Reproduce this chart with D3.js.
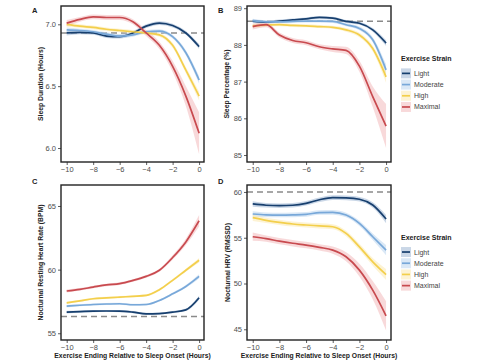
<!DOCTYPE html>
<html><head><meta charset="utf-8">
<script src="https://cdn.jsdelivr.net/npm/d3@7"></script>
<style>html,body{margin:0;padding:0;background:#fff;}svg{display:block;font-family:"Liberation Sans",Arial,sans-serif;}</style>
</head><body><svg id="c" width="480" height="360"></svg>
<script>
// ---------- DATA ----------
const xHours = [-10,-9,-8,-7,-6,-5,-4,-3,-2,-1,0];
const strainLevels = ["Light","Moderate","High","Maximal"];
const strainColors = ["#173f6e","#78a8d9","#f3cf4c","#c84a4f"];
const bandColors = ["#9fb6d3","#bcd5ee","#fbeab0","#f2b9bb"];

// Panel A: Sleep duration (hours)
const durationLight    = [6.93,6.935,6.93,6.905,6.90,6.93,6.985,7.01,6.99,6.93,6.82];
const durationModerate = [6.955,6.95,6.94,6.92,6.905,6.915,6.94,6.945,6.90,6.77,6.55];
const durationHigh     = [7.00,6.985,6.975,6.96,6.95,6.94,6.93,6.915,6.83,6.63,6.42];
const durationMaximal  = [7.01,7.04,7.06,7.055,7.055,7.02,6.93,6.83,6.66,6.42,6.12];
const durationLightCI    = [0.02,0.015,0.015,0.015,0.015,0.015,0.015,0.015,0.015,0.015,0.02];
const durationModerateCI = [0.02,0.015,0.015,0.015,0.015,0.015,0.015,0.015,0.015,0.02,0.03];
const durationHighCI     = [0.02,0.015,0.015,0.015,0.015,0.015,0.015,0.015,0.02,0.025,0.035];
const durationMaximalCI  = [0.025,0.02,0.02,0.02,0.02,0.02,0.025,0.03,0.045,0.08,0.17];
const durationBaseline = 6.93;
const durationTicks = [6.0,6.5,7.0];

// Panel B: Sleep percentage (%)
const percentLight    = [88.65,88.62,88.65,88.68,88.71,88.75,88.73,88.64,88.59,88.41,88.05];
const percentModerate = [88.66,88.63,88.63,88.64,88.65,88.65,88.64,88.55,88.45,88.14,87.32];
const percentHigh     = [88.52,88.54,88.55,88.53,88.52,88.50,88.48,88.41,88.27,87.90,87.13];
const percentMaximal  = [88.50,88.55,88.27,88.12,88.06,87.95,87.89,87.85,87.42,86.59,85.79];
const percentLightCI    = [0.05,0.04,0.04,0.04,0.04,0.04,0.04,0.04,0.04,0.05,0.08];
const percentModerateCI = [0.05,0.04,0.04,0.04,0.04,0.04,0.04,0.04,0.05,0.07,0.15];
const percentHighCI     = [0.05,0.04,0.04,0.04,0.04,0.04,0.04,0.05,0.06,0.08,0.16];
const percentMaximalCI  = [0.08,0.07,0.07,0.07,0.07,0.07,0.08,0.10,0.15,0.28,0.60];
const percentBaseline = 88.645;
const percentTicks = [85,86,87,88,89];

// Panel C: Nocturnal resting heart rate (BPM)
const rhrLight    = [56.66,56.70,56.74,56.75,56.74,56.66,56.53,56.55,56.66,56.84,57.79];
const rhrModerate = [57.13,57.20,57.26,57.30,57.32,57.24,57.26,57.58,58.10,58.68,59.47];
const rhrHigh     = [57.39,57.55,57.71,57.78,57.84,57.90,57.97,58.42,59.16,59.95,60.74];
const rhrMaximal  = [58.32,58.45,58.63,58.80,58.90,59.15,59.47,59.95,60.95,62.18,63.84];
const rhrLightCI    = [0.10,0.08,0.08,0.08,0.08,0.08,0.08,0.08,0.08,0.10,0.15];
const rhrModerateCI = [0.10,0.08,0.08,0.08,0.08,0.08,0.08,0.08,0.09,0.11,0.16];
const rhrHighCI     = [0.10,0.08,0.08,0.08,0.08,0.08,0.08,0.09,0.10,0.12,0.18];
const rhrMaximalCI  = [0.12,0.10,0.10,0.10,0.10,0.10,0.10,0.12,0.18,0.25,0.45];
const rhrBaseline = 56.32;
const rhrTicks = [55,60,65];

// Panel D: Nocturnal HRV (RMSSD)
const hrvLight    = [58.69,58.55,58.50,58.55,58.76,59.15,59.38,59.35,59.20,58.58,57.04];
const hrvModerate = [57.59,57.50,57.48,57.50,57.55,57.75,57.77,57.48,56.57,55.11,53.65];
const hrvHigh     = [57.19,56.90,56.68,56.50,56.39,56.30,56.20,55.47,54.00,52.37,50.98];
const hrvMaximal  = [55.11,54.90,54.63,54.40,54.20,53.95,53.65,52.92,51.46,49.27,46.46];
const hrvLightCI    = [0.30,0.25,0.25,0.25,0.25,0.25,0.25,0.25,0.25,0.30,0.45];
const hrvModerateCI = [0.30,0.25,0.25,0.25,0.25,0.25,0.25,0.25,0.28,0.35,0.55];
const hrvHighCI     = [0.35,0.28,0.28,0.28,0.28,0.28,0.28,0.30,0.35,0.42,0.60];
const hrvMaximalCI  = [0.45,0.35,0.35,0.35,0.35,0.35,0.40,0.50,0.70,1.00,1.60];
const hrvBaseline = 60.0;
const hrvTicks = [45,50,55,60];

const xTicks = [-10,-8,-6,-4,-2,0];
const xTitle = "Exercise Ending Relative to Sleep Onset (Hours)";

// ---------- LAYOUT ----------
const panels = [
  {letter:"A", left:61, top:6, w:143, h:156, yDom:[5.887,7.148], ticks:durationTicks, fmt:d3.format(".1f"),
   title:"Sleep Duration (Hours)", base:durationBaseline,
   series:[durationLight,durationModerate,durationHigh,durationMaximal],
   ci:[durationLightCI,durationModerateCI,durationHighCI,durationMaximalCI], xtitle:false, legend:false, ytx:43},
  {letter:"B", left:247, top:6, w:144, h:156, yDom:[84.81,89.06], ticks:percentTicks, fmt:d3.format("d"),
   title:"Sleep Percentage (%)", base:percentBaseline,
   series:[percentLight,percentModerate,percentHigh,percentMaximal],
   ci:[percentLightCI,percentModerateCI,percentHighCI,percentMaximalCI], xtitle:false, legend:true, ytx:229},
  {letter:"C", left:61, top:185, w:143, h:155, yDom:[54.47,66.65], ticks:rhrTicks, fmt:d3.format("d"),
   title:"Nocturnal Resting Heart Rate (BPM)", base:rhrBaseline,
   series:[rhrLight,rhrModerate,rhrHigh,rhrMaximal],
   ci:[rhrLightCI,rhrModerateCI,rhrHighCI,rhrMaximalCI], xtitle:true, legend:false, ytx:43},
  {letter:"D", left:247, top:185, w:144, h:155, yDom:[43.83,60.76], ticks:hrvTicks, fmt:d3.format("d"),
   title:"Nocturnal HRV (RMSSD)", base:hrvBaseline,
   series:[hrvLight,hrvModerate,hrvHigh,hrvMaximal],
   ci:[hrvLightCI,hrvModerateCI,hrvHighCI,hrvMaximalCI], xtitle:true, legend:true, ytx:230}
];

const svg = d3.select("#c");
const tickColor = "#4d4d4d";

panels.forEach((p,pi) => {
  const g = svg.append("g").attr("transform",`translate(${p.left},${p.top})`);
  const x = d3.scaleLinear().domain([-10.43,0.37]).range([0,p.w]);
  const y = d3.scaleLinear().domain(p.yDom).range([p.h,0]);
  const clipId = "clip"+pi;
  g.append("clipPath").attr("id",clipId).append("rect").attr("width",p.w).attr("height",p.h);
  const plot = g.append("g").attr("clip-path",`url(#${clipId})`);

  // baseline dashed
  plot.append("line").attr("x1",0).attr("x2",p.w).attr("y1",y(p.base)).attr("y2",y(p.base))
    .attr("stroke","#8a8a8a").attr("stroke-width",1.6).attr("stroke-dasharray","6,4");

  const curve = d3.curveMonotoneX;
  p.series.forEach((vals,si) => {
    const ci = p.ci[si];
    const pts = xHours.map((h,i)=>({x:h,y:vals[i],lo:vals[i]-ci[i],hi:vals[i]+ci[i]}));
    plot.append("path").datum(pts)
      .attr("d", d3.area().x(d=>x(d.x)).y0(d=>y(d.lo)).y1(d=>y(d.hi)).curve(curve))
      .attr("fill", bandColors[si]).attr("fill-opacity",0.55);
  });
  p.series.forEach((vals,si) => {
    const pts = xHours.map((h,i)=>({x:h,y:vals[i]}));
    plot.append("path").datum(pts)
      .attr("d", d3.line().x(d=>x(d.x)).y(d=>y(d.y)).curve(curve))
      .attr("fill","none").attr("stroke",strainColors[si]).attr("stroke-width",1.7);
  });

  // axes
  const ax = g.append("g").attr("transform",`translate(0,${p.h})`)
    .call(d3.axisBottom(x).tickValues(xTicks).tickSize(3).tickPadding(2).tickFormat(d=>d<0?"\u2212"+Math.abs(d):d));
  const ay = g.append("g").call(d3.axisLeft(y).tickValues(p.ticks).tickSize(3).tickPadding(2).tickFormat(p.fmt));
  [ax,ay].forEach(a=>{
    a.select(".domain").remove();
    a.selectAll(".tick line").attr("stroke","#333").attr("stroke-width",0.8);
    a.selectAll(".tick text").attr("fill",tickColor).attr("font-size",7.5);
  });

  // frame
  g.append("rect").attr("width",p.w).attr("height",p.h).attr("fill","none")
    .attr("stroke","#222").attr("stroke-width",1.4);

  // y title
  svg.append("text").attr("transform",`translate(${p.ytx},${p.top+p.h/2}) rotate(-90)`)
    .attr("text-anchor","middle").attr("font-size",6.8).attr("font-weight","bold").attr("fill","#222")
    .text(p.title);
  // x title
  if (p.xtitle) {
    svg.append("text").attr("x",p.left+p.w/2).attr("y",358)
      .attr("text-anchor","middle").attr("font-size",6.8).attr("font-weight","bold").attr("fill","#222")
      .text(xTitle);
  }
  // panel letter
  svg.append("text").attr("x",p.left-29).attr("y",p.top+ (pi<2?4:0) + (pi<2?3:0) - (pi<2?0:1))
    .attr("font-size",7.5).attr("font-weight","bold").attr("fill","#222").text(p.letter);

  // legend
  if (p.legend) {
    const lg = svg.append("g").attr("transform",`translate(401,${p.top+p.h*0.355})`);
    lg.append("text").attr("x",0).attr("y",0).attr("font-size",7).attr("font-weight","bold")
      .attr("fill","#222").text("Exercise Strain");
    strainLevels.forEach((s,i)=>{
      const yy = 12 + i*11.2;
      lg.append("rect").attr("x",0).attr("y",yy-5).attr("width",10).attr("height",10)
        .attr("fill",bandColors[i]).attr("fill-opacity",0.55);
      lg.append("line").attr("x1",1).attr("x2",9).attr("y1",yy).attr("y2",yy)
        .attr("stroke",strainColors[i]).attr("stroke-width",1.7);
      lg.append("text").attr("x",13).attr("y",yy+2.5).attr("font-size",7).attr("fill","#444").text(s);
    });
  }
});
</script></body></html>
